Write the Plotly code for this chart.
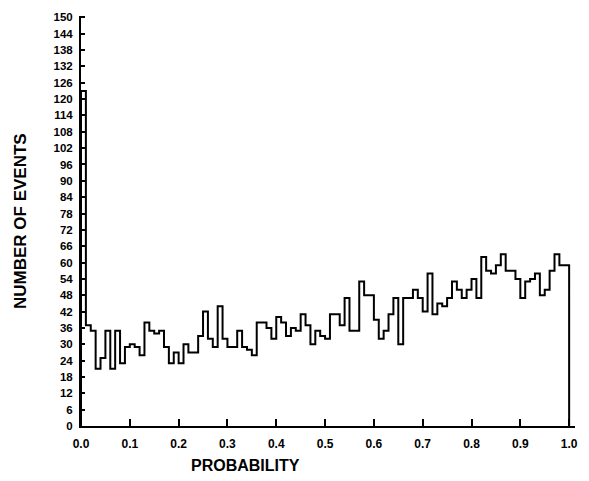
import plotly.graph_objects as go

# Histogram counts for 100 bins of width 0.01 on [0, 1]
counts = [123, 37, 35, 21, 25, 35, 21, 35, 23, 29,
          30, 29, 26, 38, 35, 34, 35, 29, 23, 27,
          23, 30, 27, 27, 33, 42, 32, 29, 44, 32,
          29, 29, 35, 29, 28, 26, 38, 38, 36, 32,
          40, 38, 33, 36, 35, 41, 37, 30, 35, 33,
          32, 41, 41, 37, 47, 35, 35, 53, 48, 48,
          39, 32, 35, 41, 47, 30, 47, 47, 50, 47,
          42, 56, 41, 45, 44, 47, 53, 50, 47, 50,
          54, 47, 62, 57, 56, 59, 63, 57, 57, 54,
          47, 53, 54, 56, 48, 50, 57, 63, 59, 59]
bin_width = 0.01

x_tick_vals = [0.0, 0.1, 0.2, 0.3, 0.4, 0.5, 0.6, 0.7, 0.8, 0.9, 1.0]
x_tick_text = ["0.0", "0.1", "0.2", "0.3", "0.4", "0.5", "0.6", "0.7", "0.8", "0.9", "1.0"]
y_tick_vals = list(range(0, 151, 6))
y_tick_text = [str(v) for v in y_tick_vals]

# Build step outline from the counts
xs, ys = [0.0], [0]
for i, c in enumerate(counts):
    xs += [i * bin_width, (i + 1) * bin_width]
    ys += [c, c]
xs.append(len(counts) * bin_width)
ys.append(0)

fig = go.Figure(go.Scatter(x=xs, y=ys, mode="lines",
                           line=dict(color="black", width=2),
                           hoverinfo="skip", showlegend=False))

font_family = "Liberation Sans"
fig.update_layout(
    width=589, height=481,
    margin=dict(l=81, r=11, t=15, b=55),
    paper_bgcolor="white", plot_bgcolor="white",
    font=dict(family=font_family, color="black", size=12, weight="bold"),
    xaxis=dict(range=[0, 1.012], showline=True, linecolor="black", linewidth=2,
               ticks="inside", ticklen=7, tickwidth=2, tickcolor="black",
               tickvals=x_tick_vals, ticktext=x_tick_text,
               showgrid=False, zeroline=False, ticklabelstandoff=6,
               tickfont=dict(size=12, family=font_family, weight="bold")),
    yaxis=dict(range=[0, 150.5], showline=True, linecolor="black", linewidth=2,
               ticks="inside", ticklen=4, tickwidth=1.5, tickcolor="black",
               tickvals=y_tick_vals, ticktext=y_tick_text,
               showgrid=False, zeroline=False, ticklabelstandoff=4,
               tickfont=dict(size=11.5, family=font_family, weight="bold")),
    annotations=[
        dict(text="NUMBER OF EVENTS", xref="paper", yref="paper", x=0, y=0.5,
             xanchor="center", yanchor="middle", xshift=-61, textangle=-90,
             showarrow=False, font=dict(size=17, family=font_family, weight="bold")),
        dict(text="PROBABILITY", xref="x", yref="paper", x=0.337, y=0,
             xanchor="center", yanchor="middle", yshift=-39,
             showarrow=False, font=dict(size=16, family=font_family, weight="bold")),
    ],
)

fig.write_html("out.html")
